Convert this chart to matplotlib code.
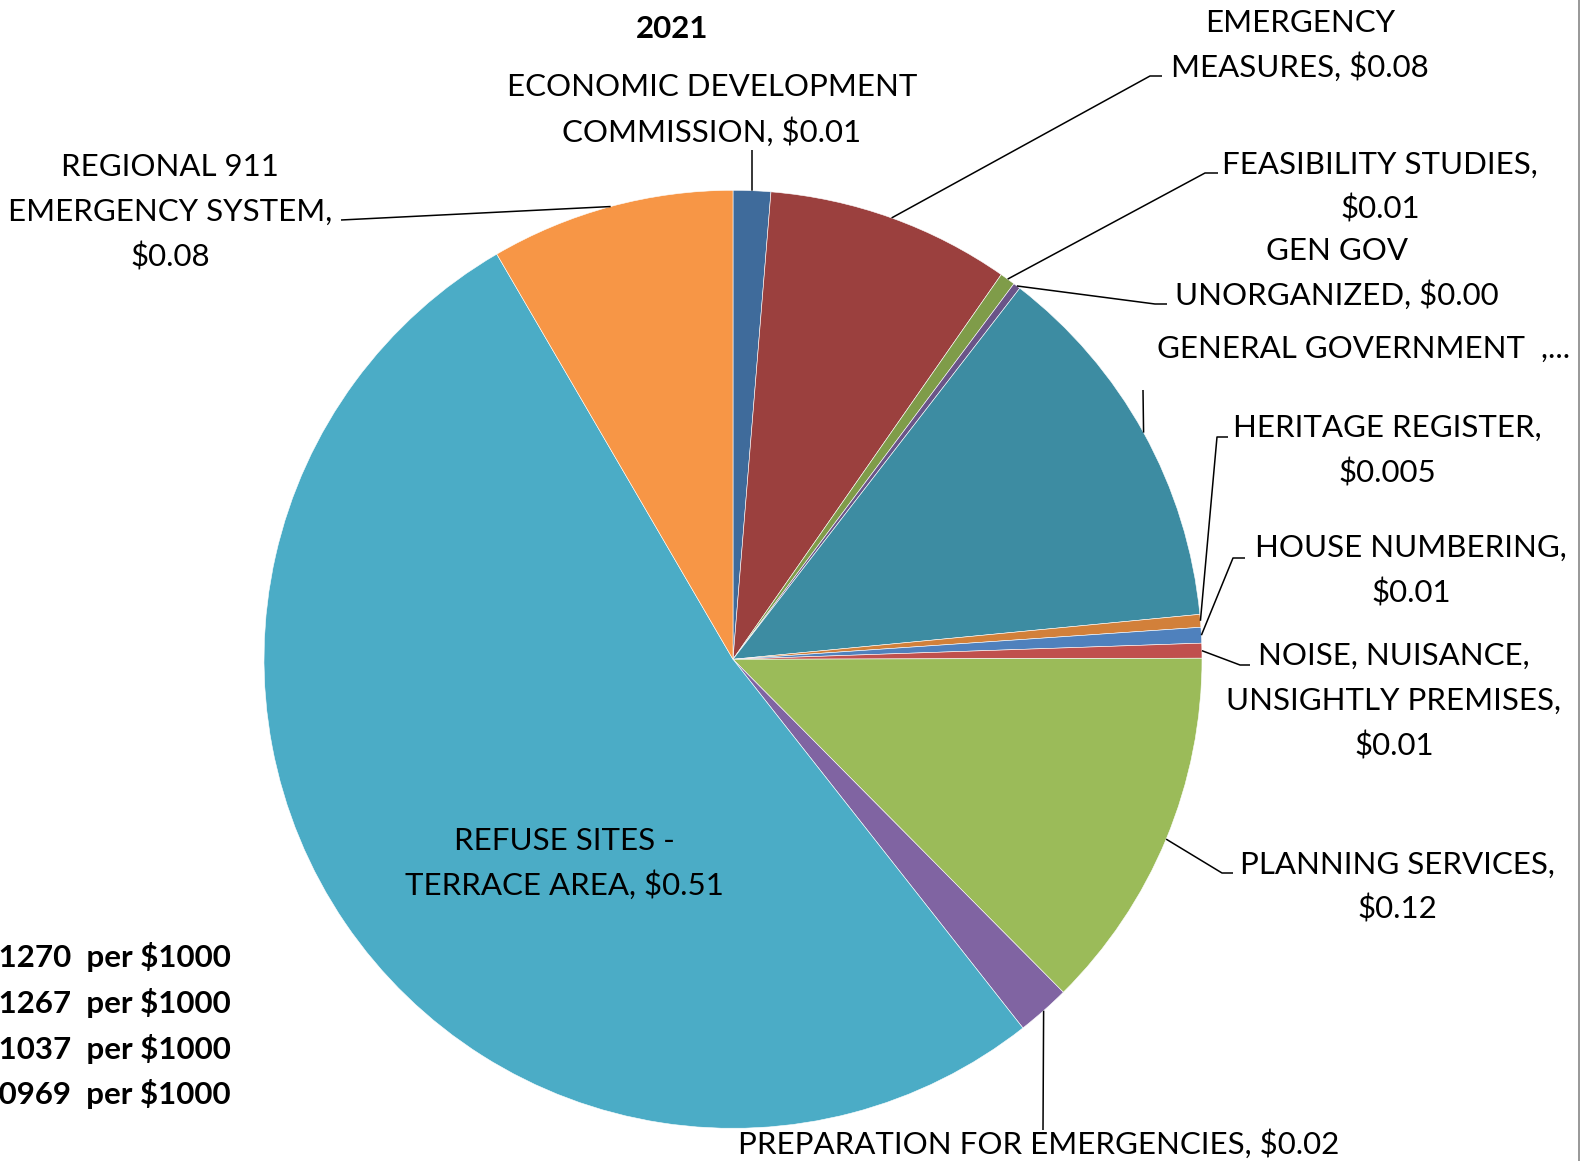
import matplotlib
matplotlib.use("Agg")
import matplotlib.pyplot as plt
import numpy as np

# canvas size in pixels (dpi 100)
W, H = 1581, 1161

# ---- data (clockwise from 12 o'clock) ----
categories = [
    "ECONOMIC DEVELOPMENT COMMISSION",
    "EMERGENCY MEASURES",
    "FEASIBILITY STUDIES",
    "GEN GOV UNORGANIZED",
    "GENERAL GOVERNMENT",
    "HERITAGE REGISTER",
    "HOUSE NUMBERING",
    "NOISE, NUISANCE, UNSIGHTLY PREMISES",
    "PLANNING SERVICES",
    "PREPARATION FOR EMERGENCIES",
    "REFUSE SITES - TERRACE AREA",
    "REGIONAL 911 EMERGENCY SYSTEM",
]
values = [0.0129, 0.084, 0.0053, 0.0025, 0.130, 0.0044,
          0.0054, 0.0051, 0.126, 0.0183, 0.522, 0.084]
value_labels = ["$0.01", "$0.08", "$0.01", "$0.00", "...", "$0.005",
                "$0.01", "$0.01", "$0.12", "$0.02", "$0.51", "$0.08"]
colors = ["#3F6B9B", "#9B403E", "#7F9C49", "#6A5488", "#3D8CA2", "#D2803A",
          "#4F81BD", "#C0504D", "#9BBB59", "#8064A2", "#4BACC6", "#F79646"]

rate_labels = ["0.1270  per $1000", "0.1267  per $1000",
               "0.1037  per $1000", "0.0969  per $1000"]

title = "2021"

# ---- label layout: text lines, centre x, first-line y, leader elbow points (pixels, y down) ----
layout = [
    (["ECONOMIC DEVELOPMENT", "COMMISSION, $0.01"], 712, 85, [(752, 150)]),
    (["EMERGENCY", "MEASURES, $0.08"], 1300, 20, [(1150, 76), (1162, 76)]),
    (["FEASIBILITY STUDIES,", "$0.01"], 1380, 162, [(1205, 173), (1218, 173)]),
    (["GEN GOV", "UNORGANIZED, $0.00"], 1337, 248, [(1155, 304), (1167, 304)]),
    (["GENERAL GOVERNMENT  ,..."], 1364, 346, [(1143, 390)]),
    (["HERITAGE REGISTER,", "$0.005"], 1387, 425, [(1217, 437), (1228, 437)]),
    (["HOUSE NUMBERING,", "$0.01"], 1411, 545, [(1233, 558), (1245, 558)]),
    (["NOISE, NUISANCE,", "UNSIGHTLY PREMISES,", "$0.01"], 1394, 653,
     [(1240, 665), (1250, 665)]),
    (["PLANNING SERVICES,", "$0.12"], 1397, 862, [(1222, 873), (1233, 873)]),
    (["PREPARATION FOR EMERGENCIES, $0.02"], 1039, 1142, [(1043, 1130)]),
    (["REFUSE SITES -", "TERRACE AREA, $0.51"], 564, 838, []),
    (["REGIONAL 911", "EMERGENCY SYSTEM,", "$0.08"], 170, 164, [(341, 220)]),
]

FONT = "Lato"
FS = 22.5
PITCH = 45.5     # line pitch in px
CAP = 11.5       # half cap height in px (centre -> baseline)

fig = plt.figure(figsize=(W / 100, H / 100), dpi=100)
fig.patch.set_facecolor("white")
ax = fig.add_axes([0, 0, 1, 1])

cx, cy, r = 733, H - 659.3, 469
wedges, _ = ax.pie(values, colors=colors, startangle=90, counterclock=False,
                   radius=r, center=(cx, cy),
                   wedgeprops=dict(edgecolor="white", linewidth=0.4))
ax.set_xlim(0, W)
ax.set_ylim(0, H)
ax.set_aspect("equal")
ax.axis("off")

for w, (lines, lx, ly, pts) in zip(wedges, layout):
    for i, line in enumerate(lines):
        ax.text(lx, H - (ly + i * PITCH + CAP), line, ha="center", va="baseline",
                fontsize=FS, family=FONT, color="black")
    if pts:
        mid = np.deg2rad((w.theta1 + w.theta2) / 2)
        xs = [cx + r * np.cos(mid)] + [p[0] for p in pts]
        ys = [cy + r * np.sin(mid)] + [H - p[1] for p in pts]
        ax.plot(xs, ys, color="black", linewidth=1.1, solid_capstyle="butt")

# title
ax.text(672, H - (27 + CAP), title, ha="center", va="baseline",
        fontsize=FS, family=FONT, fontweight="bold")

# rates, cut off at the left edge
for i, txt in enumerate(rate_labels):
    ax.text(231, H - (956 + i * PITCH + CAP), txt, ha="right", va="baseline",
            fontsize=FS, family=FONT, fontweight="bold")

# right border of the chart area
ax.plot([1579, 1579], [0, H], color="#868686", linewidth=1.2)

fig.savefig("out.png", dpi=100)
